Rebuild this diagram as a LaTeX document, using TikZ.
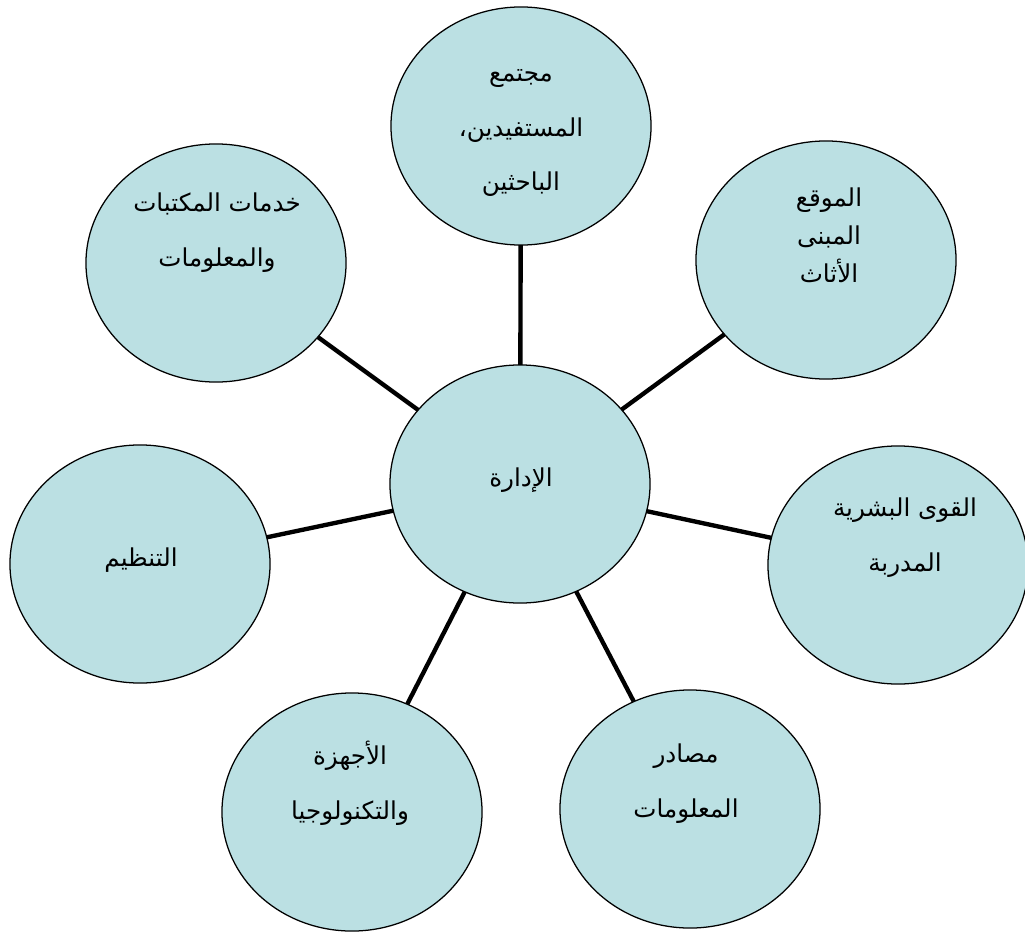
\documentclass[tikz,border=0pt]{standalone}
\usepackage{fontspec}
\usetikzlibrary{shapes.geometric}
\newfontfamily\arabicfont[Script=Arabic]{DejaVu Sans}
\TeXXeTstate=1
\definecolor{bubblefill}{RGB}{187,224,227}

\begin{document}
\begin{tikzpicture}[x=0.025cm,y=-0.025cm,
    bubble/.style={ellipse, draw=black, line width=0.9pt, fill=bubblefill,
      minimum width=6.5cm, minimum height=5.95cm, inner sep=0pt, outer sep=0pt},
    txt/.style={align=center, inner sep=0pt,
      font=\arabicfont\fontsize{17.5}{39}\selectfont},
    spoke/.style={black, line width=3.1pt}]
  \useasboundingbox (0,0) rectangle (1025,933);

  % circles
  \node[bubble] (idara)    at (520,484) {};
  \node[bubble] (mujtama)  at (521,126) {};
  \node[bubble] (mawqi)    at (826,260) {};
  \node[bubble] (quwa)     at (898,565) {};
  \node[bubble] (masadir)  at (690,809) {};
  \node[bubble] (ajhiza)   at (352,812) {};
  \node[bubble] (tanzim)   at (140,564) {};
  \node[bubble] (khadamat) at (216,263) {};

  % spokes
  \foreach \n in {mujtama,mawqi,quwa,masadir,ajhiza,tanzim,khadamat}
    \draw[spoke] (idara) -- (\n);

  % texts
  \node[txt] (t-idara) at (521,480) {\beginR الإدارة\endR};
  \node[txt] (t-mujtama) at (521,133)
    {\beginR مجتمع\endR\\\beginR المستفيدين،\endR\\\beginR الباحثين\endR};
  \node[txt, font=\arabicfont\fontsize{17.5}{27}\selectfont] (t-mawqi) at (829,235)
    {\beginR الموقع\endR\\\beginR المبنى\endR\\\beginR الأثاث\endR};
  \node[txt] (t-quwa) at (905,538)
    {\beginR القوى البشرية\endR\\\beginR المدربة\endR};
  \node[txt] (t-masadir) at (686,784)
    {\beginR مصادر\endR\\\beginR المعلومات\endR};
  \node[txt] (t-ajhiza) at (350,783)
    {\beginR الأجهزة\endR\\\beginR والتكنولوجيا\endR};
  \node[txt] (t-tanzim) at (141,560) {\beginR التنظيم\endR};
  \node[txt] (t-khadamat) at (217,233)
    {\beginR خدمات المكتبات\endR\\\beginR والمعلومات\endR};
\end{tikzpicture}
\end{document}
